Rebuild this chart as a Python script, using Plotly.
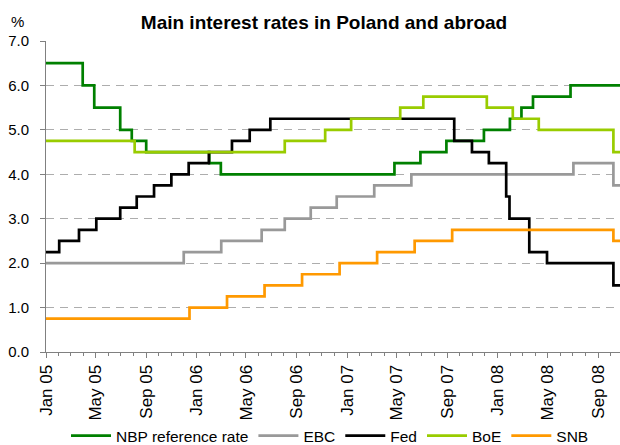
import plotly.graph_objects as go

# ---------------- data ----------------
END_DATE = "2008-10-24"

NBP_DATES = ["2005-01-01", "2005-03-31", "2005-04-28", "2005-06-30", "2005-07-28",
             "2005-09-01", "2006-02-01", "2006-03-01", "2007-04-26", "2007-06-28",
             "2007-08-30", "2007-11-29", "2008-01-31", "2008-02-28", "2008-03-27",
             "2008-06-26"]
NBP_VALUES = [6.5, 6.0, 5.5, 5.0, 4.75, 4.5, 4.25, 4.0, 4.25, 4.5, 4.75, 5.0,
              5.25, 5.5, 5.75, 6.0]

EBC_DATES = ["2005-01-01", "2005-12-01", "2006-03-02", "2006-06-08", "2006-08-03",
             "2006-10-05", "2006-12-07", "2007-03-08", "2007-06-06", "2008-07-03",
             "2008-10-08"]
EBC_VALUES = [2.0, 2.25, 2.5, 2.75, 3.0, 3.25, 3.5, 3.75, 4.0, 4.25, 3.75]

FED_DATES = ["2005-01-01", "2005-02-02", "2005-03-22", "2005-05-03", "2005-06-30",
             "2005-08-09", "2005-09-20", "2005-11-01", "2005-12-13", "2006-01-31",
             "2006-03-28", "2006-05-10", "2006-06-29", "2007-09-18", "2007-10-31",
             "2007-12-11", "2008-01-22", "2008-01-30", "2008-03-18", "2008-04-30",
             "2008-10-08"]
FED_VALUES = [2.25, 2.5, 2.75, 3.0, 3.25, 3.5, 3.75, 4.0, 4.25, 4.5, 4.75, 5.0,
              5.25, 4.75, 4.5, 4.25, 3.5, 3.0, 2.25, 2.0, 1.5]

BOE_DATES = ["2005-01-01", "2005-08-04", "2006-08-03", "2006-11-09", "2007-01-11",
             "2007-05-10", "2007-07-05", "2007-12-06", "2008-02-07", "2008-04-10",
             "2008-10-08"]
BOE_VALUES = [4.75, 4.5, 4.75, 5.0, 5.25, 5.5, 5.75, 5.5, 5.25, 5.0, 4.5]

SNB_DATES = ["2005-01-01", "2005-12-15", "2006-03-16", "2006-06-15", "2006-09-14",
             "2006-12-14", "2007-03-15", "2007-06-14", "2007-09-13", "2008-10-08"]
SNB_VALUES = [0.75, 1.0, 1.25, 1.5, 1.75, 2.0, 2.25, 2.5, 2.75, 2.5]

SERIES = [
    ("NBP reference rate", NBP_DATES, NBP_VALUES, "#008000"),
    ("EBC", EBC_DATES, EBC_VALUES, "#999999"),
    ("Fed", FED_DATES, FED_VALUES, "#000000"),
    ("BoE", BOE_DATES, BOE_VALUES, "#99CC00"),
    ("SNB", SNB_DATES, SNB_VALUES, "#FF9900"),
]

FONT = "Liberation Sans, Arial, sans-serif"

W, H = 620, 445
L, R, T, B = 46, 0, 41, 93
PW, PH = W - L - R, H - T - B

fig = go.Figure()
for name, dates, vals, color in SERIES:
    fig.add_trace(go.Scatter(
        x=dates + [END_DATE], y=vals + [vals[-1]], name=name, mode="lines",
        line=dict(color=color, width=2.7, shape="hv"),
    ))

fig.update_layout(
    width=W, height=H,
    margin=dict(l=L, r=R, t=T, b=B, autoexpand=False),
    paper_bgcolor="white", plot_bgcolor="white",
    font=dict(family=FONT, color="#000000", size=15),
    title=dict(text="<b>Main interest rates in Poland and abroad</b>",
               x=324 / W, xanchor="center", y=1 - 22 / H, yanchor="middle",
               font=dict(family=FONT, size=19, color="#000000")),
    showlegend=True,
    legend=dict(orientation="h", x=(330 - L) / PW, xanchor="center",
                y=-(436 - (H - B)) / PH, yanchor="middle",
                font=dict(family=FONT, size=15.5, color="#000000"),
                itemwidth=40, traceorder="normal", bgcolor="rgba(0,0,0,0)"),
    annotations=[dict(text="%", xref="paper", yref="paper", x=(17 - L) / PW,
                      y=1 + (T - 22) / PH, xanchor="center", yanchor="middle",
                      showarrow=False, font=dict(family=FONT, size=15))],
)

fig.update_xaxes(
    type="date", range=["2005-01-01", END_DATE], automargin=False,
    dtick="M4", tick0="2005-01-01", tickformat="%b %y", tickangle=-90,
    ticks="outside", ticklen=5, tickcolor="#808080",
    showline=True, linecolor="#808080", linewidth=1,
    showgrid=False, zeroline=False,
    tickfont=dict(family=FONT, size=17),
    minor=dict(dtick="M1", ticks="outside", ticklen=3, tickcolor="#808080", showgrid=False),
)
fig.update_yaxes(
    range=[0, 7], dtick=1, tickformat=".1f", automargin=False,
    ticks="outside", ticklen=5, tickcolor="#808080", ticklabelstandoff=8,
    showline=True, linecolor="#808080", linewidth=1,
    showgrid=True, gridcolor="#ADADAD", gridwidth=1, griddash="8px,6px",
    zeroline=False, tickfont=dict(family=FONT, size=15),
)

fig.write_html(
    "out.html",
    config={"displayModeBar": False},
    post_script="document.body.style.margin='0';document.body.style.overflow='hidden';",
)
